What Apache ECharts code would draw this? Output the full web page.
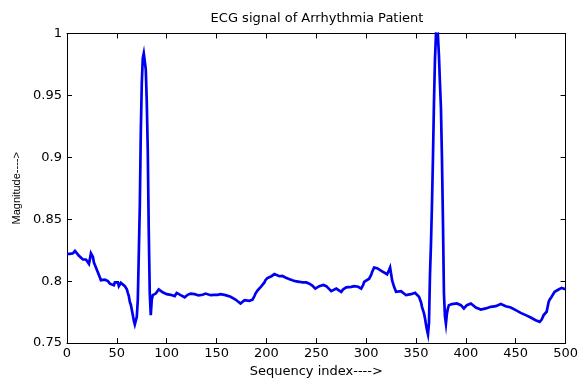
<!DOCTYPE html>
<html>
<head>
<meta charset="utf-8">
<script src="https://cdn.jsdelivr.net/npm/echarts@6/dist/echarts.min.js"></script>
<style>
  html, body { margin: 0; padding: 0; background: #fff; }
  #chart { width: 581px; height: 383px; }
</style>
</head>
<body>
<div id="chart"></div>
<script>
// ECG trace: sample index and magnitude
const sampleIndex = [
  0, 3, 6, 8, 10, 12, 14, 16, 18, 19, 20, 22, 23, 24, 25, 26, 27, 28, 30, 31,
  33, 34, 36, 38, 39, 41, 43, 45, 47, 48, 50, 51, 52, 53, 54, 56, 58, 60, 61, 62,
  63, 64, 65, 66, 67, 68, 69, 70, 71, 72, 73, 74, 75, 76, 77, 78, 79, 80, 81, 82,
  83, 84, 85, 86, 87, 88, 89, 91, 92, 94, 96, 98, 100, 102, 104, 106, 108, 110, 111, 112,
  114, 116, 118, 119, 121, 124, 126, 128, 130, 132, 134, 136, 138, 139, 141, 144, 146, 148, 149, 151,
  154, 156, 159, 161, 164, 166, 169, 171, 174, 176, 178, 180, 183, 185, 186, 188, 189, 191, 193, 195,
  196, 198, 199, 201, 203, 205, 208, 210, 213, 216, 219, 222, 226, 229, 233, 236, 238, 240, 243, 246,
  249, 250, 253, 255, 257, 260, 262, 265, 267, 270, 272, 275, 277, 280, 282, 285, 288, 290, 292, 295,
  297, 298, 300, 303, 305, 306, 308, 309, 311, 313, 316, 318, 321, 323, 324, 325, 326, 328, 330, 332,
  335, 337, 340, 342, 345, 347, 349, 351, 353, 355, 356, 358, 359, 360, 361, 362, 363, 364, 365, 366,
  367, 368, 369, 370, 371, 372, 373, 374, 375, 376, 377, 378, 379, 380, 381, 382, 383, 385, 386, 388,
  391, 393, 395, 397, 398, 400, 401, 403, 405, 407, 410, 412, 415, 417, 420, 422, 425, 427, 430, 432,
  435, 437, 440, 442, 445, 447, 450, 452, 455, 457, 460, 462, 465, 467, 470, 472, 474, 476, 478, 480,
  481, 483, 484, 486, 488, 489, 491, 493, 495, 496, 498, 500
];
const magnitude = [
  0.822, 0.822, 0.8225, 0.8245, 0.8225, 0.8205, 0.819, 0.8175, 0.8165, 0.8175, 0.816, 0.814, 0.818, 0.8225, 0.8215, 0.8195, 0.815, 0.813, 0.809, 0.8075,
  0.803, 0.8008, 0.8005, 0.8013, 0.8027, 0.8, 0.798, 0.7975, 0.7968, 0.799, 0.7975, 0.799, 0.796, 0.797, 0.7987, 0.7975, 0.796, 0.7935, 0.7906, 0.788,
  0.7833, 0.781, 0.777, 0.7726, 0.768, 0.765, 0.7665, 0.7712, 0.785, 0.822, 0.86, 0.92, 0.96, 0.98, 0.984, 0.983, 0.971, 0.945, 0.905, 0.84,
  0.79, 0.7726, 0.785, 0.7887, 0.7895, 0.788, 0.79, 0.791, 0.7933, 0.792, 0.791, 0.79, 0.7895, 0.7906, 0.789, 0.7895, 0.788, 0.7905, 0.792, 0.791,
  0.7887, 0.7885, 0.787, 0.7874, 0.789, 0.79, 0.7905, 0.7895, 0.789, 0.7885, 0.788, 0.789, 0.7905, 0.79, 0.7895, 0.7887, 0.7895, 0.789, 0.788, 0.789,
  0.7895, 0.789, 0.7887, 0.789, 0.7874, 0.787, 0.7852, 0.7845, 0.782, 0.783, 0.7847, 0.784, 0.7841, 0.7845, 0.785, 0.788, 0.79, 0.7925, 0.794, 0.796,
  0.7968, 0.799, 0.8008, 0.8025, 0.8035, 0.804, 0.8057, 0.805, 0.804, 0.8042, 0.803, 0.802, 0.8008, 0.8, 0.7995, 0.799, 0.8003, 0.799, 0.798, 0.7965,
  0.794, 0.7954, 0.796, 0.7976, 0.797, 0.796, 0.7945, 0.792, 0.7935, 0.794, 0.7925, 0.7914, 0.7935, 0.795, 0.7945, 0.7954, 0.796, 0.7968, 0.7955, 0.794,
  0.797, 0.7995, 0.8005, 0.802, 0.805, 0.8075, 0.811, 0.8116, 0.8105, 0.809, 0.808, 0.8067, 0.8056, 0.809, 0.811, 0.806, 0.8008, 0.7954, 0.7914, 0.7925,
  0.792, 0.7905, 0.7887, 0.789, 0.7895, 0.79, 0.7906, 0.789, 0.7874, 0.783, 0.7793, 0.774, 0.77, 0.765, 0.7605, 0.757, 0.766, 0.805, 0.83, 0.862,
  0.9, 0.944, 0.979, 0.999, 0.995, 0.998, 0.982, 0.96, 0.94, 0.9, 0.849, 0.79, 0.772, 0.7658, 0.774, 0.778, 0.7806, 0.781, 0.7815, 0.781,
  0.782, 0.7815, 0.7806, 0.779, 0.778, 0.7795, 0.7806, 0.7815, 0.782, 0.7805, 0.7787, 0.778, 0.7771, 0.7775, 0.778, 0.779, 0.7793, 0.7795, 0.7798, 0.7805,
  0.7815, 0.781, 0.7798, 0.7795, 0.7787, 0.778, 0.7766, 0.776, 0.7744, 0.7735, 0.7726, 0.772, 0.7707, 0.77, 0.7685, 0.768, 0.7672, 0.769, 0.7726, 0.774,
  0.7753, 0.7833, 0.785, 0.7874, 0.789, 0.7914, 0.7925, 0.7933, 0.7935, 0.7946, 0.794, 0.7935
];

const xTicks = { min: 0, max: 500, interval: 50 };
const yTicks = { min: 0.75, max: 1, interval: 0.05 };

const points = sampleIndex.map((x, i) => [x, magnitude[i]]);

const FONT = 'DejaVu Sans';
const INK = '#000';

function boxAxis(base, extra) {
  return Object.assign({
    type: 'value',
    min: base.min,
    max: base.max,
    interval: base.interval,
    splitLine: { show: false },
    axisLine: { show: true, onZero: false, lineStyle: { color: INK, width: 1 } },
    axisTick: { show: true, inside: true, length: 5, lineStyle: { color: INK, width: 1 } }
  }, extra);
}

const chart = echarts.init(document.getElementById('chart'), null, { renderer: 'canvas' });
chart.setOption({
  animation: false,
  backgroundColor: '#fff',
  title: {
    text: 'ECG signal of Arrhythmia Patient',
    left: 317,
    textAlign: 'center',
    top: 12,
    padding: 0,
    textStyle: { fontFamily: FONT, fontSize: 13, fontWeight: 'normal', color: INK }
  },
  grid: { left: 67, right: 13, top: 33.5, bottom: 34.5, containLabel: false },
  xAxis: [
    boxAxis(xTicks, {
      position: 'bottom',
      name: 'Sequency index---->',
      nameLocation: 'middle',
      nameGap: 19,
      nameTextStyle: { fontFamily: FONT, fontSize: 13, color: INK },
      axisLabel: { margin: 4, fontFamily: FONT, fontSize: 13, color: INK }
    }),
    boxAxis(xTicks, { position: 'top', axisLabel: { show: false } })
  ],
  yAxis: [
    boxAxis(yTicks, {
      position: 'left',
      name: 'Magnitude---->',
      nameLocation: 'middle',
      nameRotate: 90,
      nameGap: 43,
      nameTextStyle: { fontFamily: 'Liberation Sans', fontSize: 11, color: INK },
      axisLabel: { margin: 5, fontFamily: FONT, fontSize: 13, color: INK }
    }),
    boxAxis(yTicks, { position: 'right', axisLabel: { show: false } })
  ],
  series: [{
    type: 'line',
    xAxisIndex: 0,
    yAxisIndex: 0,
    data: points,
    showSymbol: false,
    symbol: 'none',
    smooth: false,
    clip: true,
    lineStyle: { color: '#0000f0', width: 2.7, join: 'miter' }
  }]
});
</script>
</body>
</html>
